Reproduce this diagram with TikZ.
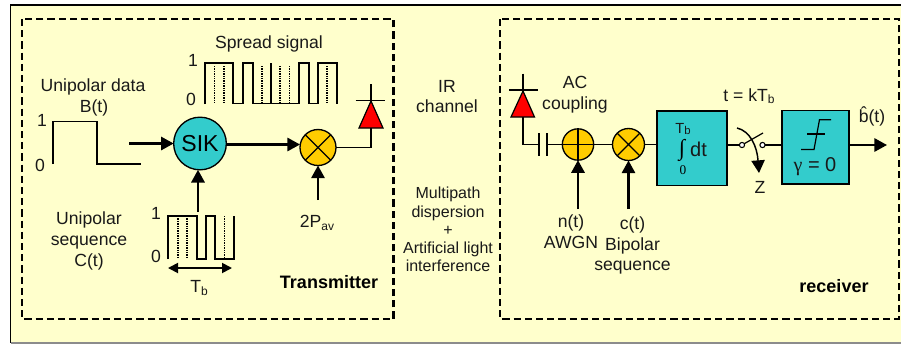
\documentclass[tikz,border=0pt]{standalone}
\usepackage{fontspec}
\setmainfont{Liberation Sans}
\newfontfamily\serifgk{Liberation Serif}
\usetikzlibrary{arrows.meta,calc}
\definecolor{bgpale}{HTML}{FFFFCC}
\definecolor{tealbox}{HTML}{33CCCC}
\definecolor{orangemix}{HTML}{FFCC00}
\tikzset{
  txt/.style={inner sep=0pt,outer sep=0pt,align=center,font=\fontsize{13.2}{15.6}\selectfont,text=black!90},
  smalltxt/.style={txt,font=\fontsize{12}{13.6}\selectfont},
  boldtxt/.style={inner sep=0pt,font=\fontsize{13.5}{16}\selectfont\bfseries},
  dashbox/.style={draw=black,line width=1.7pt,dash pattern=on 5.4pt off 3pt},
  wire/.style={draw=black,line width=0.9pt},
  wave/.style={draw=black,line width=1.05pt,line join=miter},
  dots/.style={draw=black,line width=1.2pt,dash pattern=on 1pt off 0.8pt},
  bigarrow/.style={draw=black,line width=1.6pt,-{Triangle[length=9.5pt,width=10pt]}},
  dblarrow/.style={draw=black,line width=1.4pt,{Triangle[length=7.5pt,width=7.5pt]}-{Triangle[length=7.5pt,width=7.5pt]}},
  mixer/.style={circle,draw=black,line width=1pt,fill=orangemix,minimum size=24pt,inner sep=0pt,outer sep=0pt},
  blockbox/.style={rectangle,draw=black,line width=1.1pt,fill=tealbox,inner sep=0pt,outer sep=0pt},
  diodetri/.style={draw=black,line width=0.9pt,fill=red,line join=miter},
  contact/.style={circle,draw=black,line width=0.8pt,fill=white,minimum size=3.9pt,inner sep=0pt,outer sep=0pt},
}
\begin{document}
\begin{tikzpicture}[x=0.75pt,y=-0.75pt]
\useasboundingbox (0,0) rectangle (901,344);
% panel
\fill[bgpale] (10.5,5) rectangle (901,343);
\draw[black,line width=1pt] (901,5) -- (10.5,5) -- (10.5,343);
\draw[black!45,line width=1pt] (10.5,343) -- (901,343);
% dashed frames
\draw[dashbox] (22,19) rectangle (393.5,319);
\draw[dashbox] (500,19) rectangle (899,319);

% ---- transmitter ----
\node[txt] (lunidata) at (93,87) {Unipolar data};
\node[txt] (lbt) at (94,108) {B(t)};
\node[txt] (d1) at (42,120) {1};
\node[txt] (d0) at (40,165) {0};
\draw[wave] (53,164) -- (53,121.5) -- (97,121.5) -- (97,164) -- (141,164);

\node[circle,draw=black,line width=1pt,fill=tealbox,minimum size=39.5pt,inner sep=0pt,outer sep=0pt,
      font=\fontsize{17.3}{20}\selectfont] (sik) at (200,143.5) {SIK};
\coordinate (datain) at (129,143.5);
\draw[bigarrow] (datain) -- (sik.west);

\node[txt] (lspread) at (269,44) {Spread signal};
\node[txt] (s1) at (193,60) {1};
\node[txt] (s0) at (191,99) {0};
\draw[wave] (205,104) -- (205,63) -- (233,63) -- (233,103.5) -- (243,103.5) -- (243,63) -- (253,63) -- (253,103.5)
  -- (299,103.5) -- (299,63) -- (309,63) -- (309,103.5) -- (318,103.5) -- (318,63) -- (337,63) -- (337,104);
\draw[wave] (271,63) -- (271,103.5);
\foreach \x in {214.5,224,262,280,289.5,327} \draw[dots] (\x,66) -- (\x,104);

\node[mixer,minimum size=27pt] (mixt) at (318,147.5) {};
\draw[wire] (mixt.45) -- (mixt.-135) (mixt.135) -- (mixt.-45);
\draw[bigarrow] (sik.east |- 0,144.5) -- (mixt.west |- 0,144.5);

\coordinate (pavin) at (318,200);
\draw[bigarrow] (pavin) -- (mixt.south);
\node[txt] (lpav) at (317,223) {2P\raisebox{-0.25ex}{\fontsize{9}{10}\selectfont av}};

% tx diode
\coordinate (tdbase) at (371,128);
\coordinate (tdtip) at (371,101);
\coordinate (tdtop) at (371,84);
\draw[diodetri] (359,128) -- (383,128) -- (tdtip) -- cycle;
\draw[wire] (tdtop) -- (tdtip);
\draw[wire] (355.5,100.5) -- (384.5,100.5);
\draw[wire] (mixt.east) -- (tdbase |- mixt.east) -- (tdbase);

% unipolar sequence
\node[txt] (lseq) at (89,241) {Unipolar\\sequence\\C(t)};
\node[txt] (c1) at (156,213) {1};
\node[txt] (c0) at (156,256) {0};
\draw[wave] (168,259) -- (168,216) -- (197,216) -- (197,259) -- (206,259) -- (206,216) -- (215,216) -- (215,259) -- (234,259) -- (234,216);
\foreach \x in {178,187,224.5} \draw[dots] (\x,216) -- (\x,259);
\coordinate (seqout) at (198,212);
\draw[bigarrow] (seqout) -- (seqout |- sik.south);
\coordinate (tbl) at (168,268);
\coordinate (tbr) at (232,268);
\draw[dblarrow] (tbl) -- (tbr);
\node[txt] (ltb) at (199,288) {T\raisebox{-0.25ex}{\fontsize{9}{10}\selectfont b}};
\node[boldtxt] (ltrans) at (329,282) {Transmitter};

% ---- channel ----
\node[txt] (lir) at (447,96.5) {IR\\channel};
\node[smalltxt] (lmulti) at (448,229.5) {Multipath\\dispersion\\+\\Artificial light\\interference};

% ---- receiver ----
\coordinate (rdtop) at (523,73.5);
\coordinate (rdtip) at (523,91);
\coordinate (rdbase) at (523,117);
\draw[wire] (rdtop) -- (rdtip);
\draw[wire] (509,90) -- (538,90);
\draw[diodetri] (511,117) -- (534.5,117) -- (rdtip) -- cycle;
\node[txt] (lac) at (575,95) {AC\\coupling};

\node[mixer,minimum size=23.5pt] (adder) at (578,144.5) {};
\draw[wire] (adder.north) -- (adder.south) (adder.west) -- (adder.east);
\node[mixer] (mixr) at (628.5,144.5) {};
\draw[wire] (mixr.45) -- (mixr.-135) (mixr.135) -- (mixr.-45);

\coordinate (capl) at (539,144.5);
\coordinate (capr) at (547,144.5);
\draw[wire] (rdbase) -- (rdbase |- capl) -- (capl);
\draw[wire] (capl |- 0,133) -- (capl |- 0,155.5);
\draw[wire] (capr |- 0,133) -- (capr |- 0,155.5);
\draw[wire] (capr) -- (adder.west);
\draw[wire] (adder.east) -- (mixr.west);

\coordinate (nin) at (578,209);
\coordinate (cin) at (628.5,209);
\draw[bigarrow] (nin) -- (adder.south);
\draw[bigarrow] (cin) -- (mixr.south);
\node[txt] (lnt) at (571,232) {n(t)\\AWGN};
\node[txt] (lct) at (632.5,245.5) {c(t)\\Bipolar\\sequence};

\node[blockbox,minimum width=52.5pt,minimum height=56pt] (integ) at (692,148.2) {};
\draw[wire] (mixr.east) -- (integ.west |- mixr.east);
\node[txt,font=\fontsize{11}{13}\selectfont] (lintT) at (683,129) {T\raisebox{-0.25ex}{\fontsize{8.5}{9}\selectfont b}};
\node[inner sep=0pt,font=\serifgk\fontsize{17}{18}\selectfont] (lints) at (682,150) {∫};
\node[txt,font=\fontsize{15}{17}\selectfont] (lintd) at (698.5,149) {dt};
\node[inner sep=0pt,font=\serifgk\fontsize{10}{12}\selectfont] (lint0) at (683,170) {0};

\node[contact] (sw1) at (742,145) {};
\node[contact] (sw2) at (762.5,145) {};
\coordinate (swarm) at (763,133);
\draw[wire] (integ.east |- sw1) -- (sw1.west);
\draw[wire] (sw1.30) -- (swarm);
\coordinate (zfrom) at (737,128);
\coordinate (zto) at (759,173);
\draw[bigarrow,line width=1.1pt] (zfrom) .. controls (750,131) and (757,146) .. (zto);
\node[txt] (lz) at (760,187) {Z};
\node[txt] (lkt) at (749,96) {t = kT\raisebox{-0.25ex}{\fontsize{9}{10}\selectfont b}};

\node[blockbox,minimum width=50pt,minimum height=55pt] (thr) at (815.5,147.2) {};
\draw[wire] (sw2.east) -- (thr.west |- sw2);
\draw[wire] (801,149.5) -- (814,149.5) -- (819.5,119.7) -- (831,119.7);
\draw[wire] (807,134) -- (825,134);
\node[txt,font=\fontsize{15}{17}\selectfont] (lgam) at (815,167) {{\serifgk γ} = 0};

\coordinate (bout) at (887,145);
\draw[bigarrow] (thr.east |- bout) -- (bout);
\node[txt] (lbhat) at (872,116) {\^{b}(t)};
\node[boldtxt] (lrecv) at (834,286) {receiver};
\end{tikzpicture}
\end{document}
